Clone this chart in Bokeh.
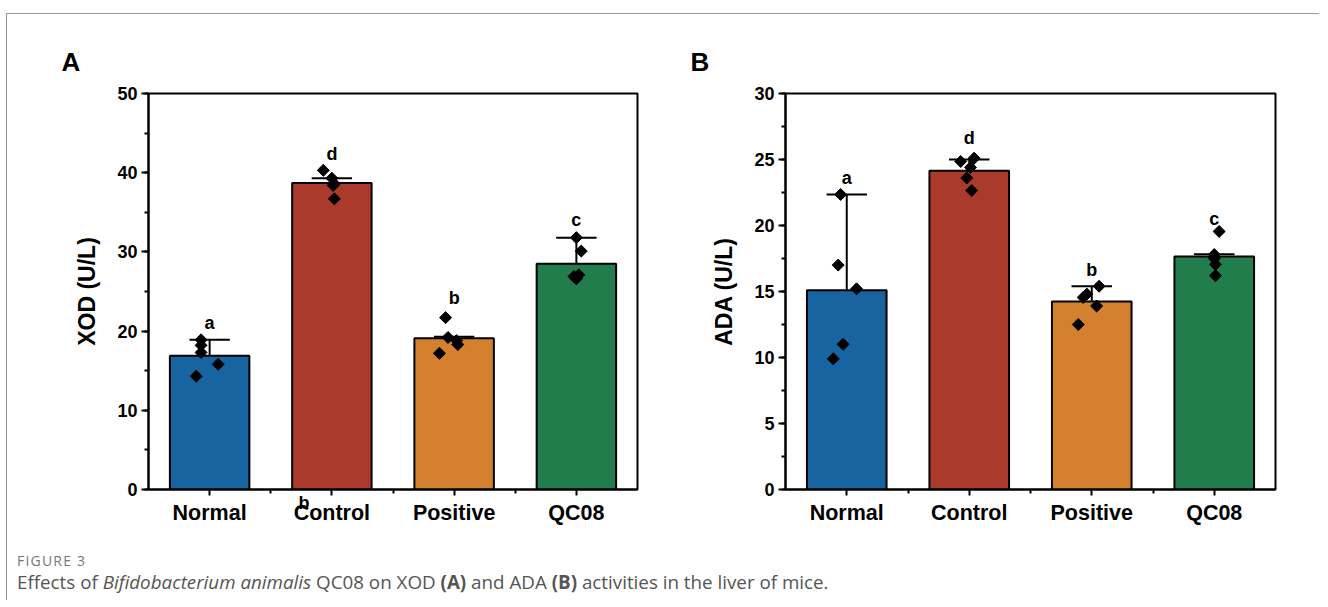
import numpy as np
from bokeh.plotting import figure
from bokeh.models import FixedTicker, SingleIntervalTicker, Title, Div, Range1d
from bokeh.layouts import row, column
from bokeh.embed import file_html
from bokeh.resources import INLINE
from bokeh.core.properties import value

# ---------------- data ----------------
groups = ["Normal", "Control", "Positive", "QC08"]
bar_colors = ["#1764a0", "#aa3a2b", "#d3802f", "#217e4c"]

xod_mean = [16.9, 38.7, 19.1, 28.5]
xod_err = [2.0, 0.6, 0.2, 3.3]
xod_points = [[18.9, 18.2, 17.3, 15.8, 14.3],
              [40.3, 39.3, 38.6, 38.4, 36.7],
              [21.7, 19.2, 18.8, 18.3, 17.2],
              [31.8, 30.1, 27.1, 26.9, 26.6]]
xod_jitter = [[-0.07, -0.07, -0.07, 0.07, -0.11],
              [-0.07, 0.0, 0.02, 0.01, 0.02],
              [-0.07, -0.05, 0.02, 0.03, -0.12],
              [0.0, 0.04, 0.02, -0.02, 0.0]]
xod_letters = ["a", "d", "b", "c"]
xod_letter_y = [21.0, 42.4, 24.2, 34.0]

ada_mean = [15.1, 24.15, 14.25, 17.65]
ada_err = [7.25, 0.85, 1.15, 0.18]
ada_points = [[22.35, 17.0, 15.2, 11.0, 9.9],
              [25.1, 24.85, 24.4, 23.6, 22.65],
              [15.4, 14.8, 14.55, 13.9, 12.5],
              [19.55, 17.8, 17.5, 17.05, 16.2]]
ada_jitter = [[-0.05, -0.07, 0.08, -0.03, -0.11],
              [0.04, -0.07, 0.01, -0.02, 0.02],
              [0.06, -0.04, -0.07, 0.04, -0.11],
              [0.04, 0.0, 0.0, 0.01, 0.01]]
ada_letters = ["a", "d", "b", "c"]
ada_letter_y = [23.6, 26.6, 16.6, 20.5]

FONT = "Liberation Sans"


def make_panel(mean, err, pts, jit, letters, letter_y, ymax, interval, ylabel,
               panel_letter, title_offset, mb_left, mb_right, frame_w):
    x = list(range(1, len(groups) + 1))
    p = figure(frame_width=frame_w, frame_height=396,
               x_range=Range1d(0.5, len(groups) + 0.5), y_range=Range1d(0, ymax),
               output_backend="svg", toolbar_location=None,
               min_border_left=mb_left, min_border_right=mb_right,
               min_border_top=79, min_border_bottom=41)
    p.xgrid.visible = False
    p.ygrid.visible = False
    p.outline_line_color = "black"
    p.outline_line_width = 2
    p.background_fill_color = "white"
    p.border_fill_color = "white"

    p.title.text = panel_letter
    p.title.text_font = FONT
    p.title.text_font_style = "bold"
    p.title.text_font_size = "26px"
    p.title.text_color = "black"
    p.title.align = "left"
    p.title.offset = title_offset
    p.title.standoff = 34

    # bars
    p.vbar(x=x, top=mean, bottom=0, width=0.65, fill_color=bar_colors,
           line_color="black", line_width=2)
    # error bars (upper)
    tops = [m + e for m, e in zip(mean, err)]
    p.segment(x0=x, y0=mean, x1=x, y1=tops, line_color="black", line_width=2)
    p.segment(x0=[xi - 0.165 for xi in x], y0=tops, x1=[xi + 0.165 for xi in x], y1=tops,
              line_color="black", line_width=2)
    # individual points
    px, py = [], []
    for xi, vals, js in zip(x, pts, jit):
        for v, j in zip(vals, js):
            px.append(xi + j)
            py.append(v)
    p.scatter(px, py, marker="square", angle=np.pi / 4, size=8.5,
              fill_color="black", line_color="black")
    # significance letters
    p.text(x=x, y=letter_y, text=letters, text_font=value(FONT),
           text_font_style="bold", text_font_size="18px", text_align="center",
           text_baseline="middle", text_color="black")

    # axes
    p.yaxis.ticker = SingleIntervalTicker(interval=interval, num_minor_ticks=2)
    p.xaxis.ticker = FixedTicker(ticks=x, minor_ticks=[xi + 0.5 for xi in x[:-1]])
    p.xaxis.major_label_overrides = {xi: g for xi, g in zip(x, groups)}
    for ax in (p.xaxis, p.yaxis):
        ax.axis_line_color = "black"
        ax.axis_line_width = 2
        ax.major_tick_line_color = "black"
        ax.major_tick_line_width = 2
        ax.minor_tick_line_color = "black"
        ax.minor_tick_line_width = 2
        ax.major_tick_in = 0
        ax.minor_tick_in = 0
        ax.major_label_text_font = FONT
        ax.major_label_text_font_style = "bold"
        ax.major_label_text_color = "black"
    p.yaxis.major_tick_out = 7
    p.yaxis.minor_tick_out = 4
    p.xaxis.major_tick_out = 6
    p.xaxis.minor_tick_out = 4
    p.yaxis.major_label_text_font_size = "18px"
    p.xaxis.major_label_text_font_size = "21.5px"
    p.yaxis.major_label_standoff = 4
    p.xaxis.major_label_standoff = 5
    p.yaxis.axis_label = ylabel
    p.yaxis.axis_label_text_font = FONT
    p.yaxis.axis_label_text_font_style = "bold"
    p.yaxis.axis_label_text_font_size = "23px"
    p.yaxis.axis_label_text_color = "black"
    p.yaxis.axis_label_standoff = 14
    return p


pA = make_panel(xod_mean, xod_err, xod_points, xod_jitter, xod_letters, xod_letter_y,
                50, 10, "XOD (U/L)", "A", -87, 141, 31, 489)
# stray letter present in the original figure (overlapping the "Control" label)
pA.add_layout(Title(text="b", align="left", vertical_align="top", offset=150, standoff=-70,
                    text_font=FONT, text_font_style="bold", text_font_size="18px",
                    text_color="black"), "below")

pB = make_panel(ada_mean, ada_err, ada_points, ada_jitter, ada_letters, ada_letter_y,
                30, 5, "ADA (U/L)", "B", -95, 117, 44, 490)

caption_html = (
    '<div style="font-family:\'Open Sans\',\'Noto Sans\',sans-serif; color:#555; padding-left:5px;">'
    '<div style="font-size:14px; line-height:19px; color:#777; letter-spacing:1.2px; margin-top:16px;">FIGURE 3</div>'
    '<div style="font-size:18.8px; line-height:24px;">Effects of <i>Bifidobacterium animalis</i> '
    'QC08 on XOD <b>(A)</b> and ADA <b>(B)</b> activities in the liver of mice.</div></div>'
)
cap = Div(text=caption_html, width=1300, height=60)

layout = column(row(pA, pB), cap, margin=(13, 0, 0, 6),
                styles={"border-top": "1px solid #999", "border-left": "1px solid #999"})

open("out.html", "w").write(file_html(layout, INLINE))
